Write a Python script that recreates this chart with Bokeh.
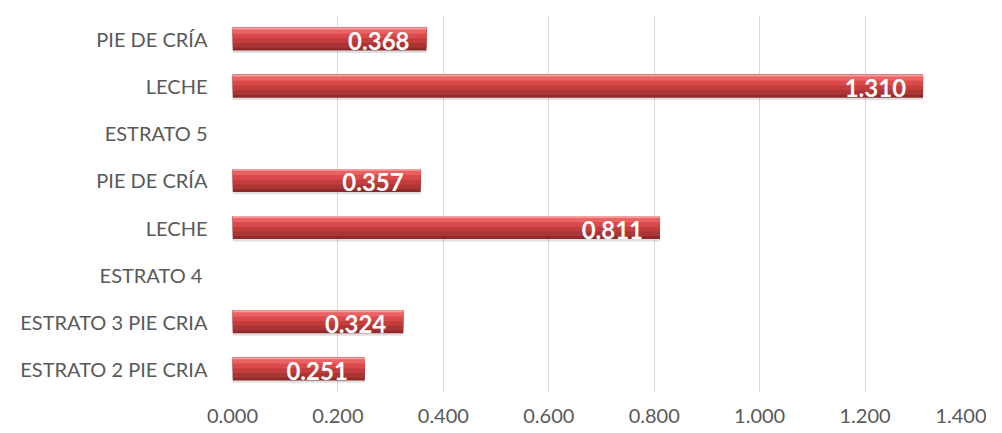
from bokeh.plotting import figure
from bokeh.models import ColumnDataSource, FixedTicker, NumeralTickFormatter
from bokeh.transform import dodge
from bokeh.core.properties import value
from bokeh.embed import file_html
from bokeh.resources import INLINE

# Data (bottom to top)
categories = ["ESTRATO 2 PIE CRIA", "ESTRATO 3 PIE CRIA", "ESTRATO 4 ", "LECHE",
              "PIE DE CRÍA", "ESTRATO 5", "LECHE", "PIE DE CRÍA"]
values = [0.251, 0.324, None, 0.811, 0.357, None, 1.310, 0.368]
x_ticks = [0.0, 0.2, 0.4, 0.6, 0.8, 1.0, 1.2, 1.4]

pos = list(range(1, len(categories) + 1))
bar_pos = [p for p, v in zip(pos, values) if v is not None]
bar_val = [v for v in values if v is not None]
src = ColumnDataSource(dict(y=bar_pos, v=bar_val,
                            lbl=[f"{v:.3f}" for v in bar_val]))

p = figure(width=986, height=425, output_backend="svg", toolbar_location=None,
           x_range=(0, 1.4), y_range=(0.5, len(categories) + 0.5),
           min_border_left=232, min_border_right=16, min_border_top=15,
           min_border_bottom=33)
p.background_fill_color = "white"
p.border_fill_color = "white"
p.outline_line_color = None

H = 0.49
yr = p.y_range
# shadow
p.hbar(y=dodge("y", -0.05, range=yr), left=0, right="v", height=H, source=src,
       fill_color="#000000", fill_alpha=0.12, line_color=None)
# layered pseudo-gradient (dark bottom -> light top)
p.hbar(y="y", left=0, right="v", height=H, source=src,
       fill_color="#8e2a2a", line_color=None)
p.hbar(y=dodge("y", 0.03, range=yr), left=0, right="v", height=H - 0.06,
       source=src, fill_color="#aa3535", line_color=None)
p.hbar(y=dodge("y", 0.08, range=yr), left=0, right="v", height=H - 0.16,
       source=src, fill_color="#c33d3d", line_color=None)
p.hbar(y=dodge("y", 0.13, range=yr), left=0, right="v", height=H - 0.26,
       source=src, fill_color="#db4a4a", line_color=None)
p.hbar(y=dodge("y", 0.18, range=yr), left=0, right="v", height=H - 0.36,
       source=src, fill_color="#ea6262", line_color=None)
p.hbar(y=dodge("y", 0.225, range=yr), left=0, right="v", height=0.04,
       source=src, fill_color="#f4a0a0", line_color=None)

p.text(x="v", y="y", text="lbl", source=src, text_align="right",
       text_baseline="middle", x_offset=-17, y_offset=2,
       text_color="white", text_font=value("Lato"), text_font_style="bold",
       text_font_size="24px")

# axes
p.xaxis.ticker = FixedTicker(ticks=x_ticks)
p.xaxis.formatter = NumeralTickFormatter(format="0.000")
p.xaxis.axis_line_color = None
p.xaxis.major_tick_line_color = None
p.xaxis.minor_tick_line_color = None
p.xaxis.major_label_text_font = "Lato"
p.xaxis.major_label_text_font_size = "20px"
p.xaxis.major_label_text_color = "#595959"
p.xaxis.major_label_standoff = 10

p.yaxis.ticker = FixedTicker(ticks=pos)
p.yaxis.major_label_overrides = {pp: c for pp, c in zip(pos, categories)}
p.yaxis.axis_line_color = None
p.yaxis.major_tick_line_color = None
p.yaxis.minor_tick_line_color = None
p.yaxis.major_tick_out = 0
p.yaxis.major_label_text_font = "Lato"
p.yaxis.major_label_text_font_size = "20px"
p.yaxis.major_label_text_color = "#595959"
p.yaxis.major_label_standoff = 25

p.xgrid.grid_line_color = "#d9d9d9"
p.xgrid.grid_line_width = 1
p.ygrid.grid_line_color = None

open("out.html", "w").write(file_html(p, INLINE))
